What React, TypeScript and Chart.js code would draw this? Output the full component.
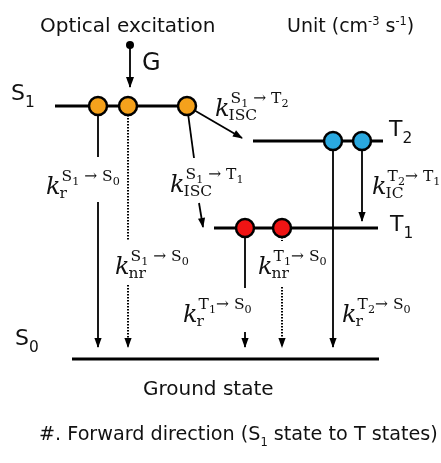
import React, { useEffect, useRef } from "react";
import { Chart, registerables } from "chart.js";
Chart.register(...registerables);

const WIDTH = 441;
const HEIGHT = 463;

// Energy levels (diagram units = pixels of the reference)
const levelNames = ["S_1", "T_2", "T_1", "S_0"];
const levelY = [106, 141, 228, 359];
const levelX0 = [55, 253, 214, 72];
const levelX1 = [193, 383, 378, 379];
const levelLabelX = [11, 389, 390, 15];
const levelLabelY = [100, 136, 231, 345];

// Excited-state populations sitting on the levels
const s1PopX = [98, 128, 187];
const t2PopX = [333, 362];
const t1PopX = [245, 282];

// Generation source (G)
const genX = [130];
const genY = [45];

// Transition segments
const segX0 = [98, 98, 128, 128, 187, 187, 199, 333, 362, 245, 245, 282, 282, 130];
const segY0 = [106, 202, 106, 285, 106, 106, 203, 141, 141, 228, 332, 228, 287, 45];
const segX1 = [98, 98, 128, 128, 242, 194, 203, 333, 362, 245, 245, 282, 282, 130];
const segY1 = [157, 347, 240, 347, 138, 158, 227, 347, 221, 288, 347, 241, 347, 87];
const segDotted = [0, 0, 1, 1, 0, 0, 0, 0, 0, 0, 0, 1, 1, 0];
const segArrow = [0, 1, 0, 1, 1, 0, 1, 1, 1, 0, 1, 0, 1, 1];

// Rate-constant labels
const kX = [46, 215, 170, 372, 115, 258, 183, 342];
const kY = [194, 116, 192, 194, 274, 274, 322, 322];
const kSup = ["S_1 → S_0", "S_1 → T_2", "S_1 → T_1", "T_2→ T_1", "S_1 → S_0", "T_1→ S_0", "T_1→ S_0", "T_2→ S_0"];
const kSub = ["r", "ISC", "ISC", "IC", "nr", "nr", "r", "r"];

// Free text
const textStr = ["Optical excitation", "Unit (cm^{-3} s^{-1})", "G", "Ground state", "#. Forward direction (S_1 state to T states)"];
const textX = [40, 287, 142, 143, 39];
const textY = [32, 32, 70, 395, 440];
const textSize = [20, 19, 24, 20, 19.2];

const SANS = '"DejaVu Sans", sans-serif';
const SERIF = '"DejaVu Serif", serif';

type Part = { t: string; m: 0 | 1 | 2 };
function parseRich(s: string): Part[] {
  const parts: Part[] = [];
  let i = 0;
  let buf = "";
  while (i < s.length) {
    const c = s[i];
    if (c === "_" || c === "^") {
      if (buf) { parts.push({ t: buf, m: 0 }); buf = ""; }
      let t: string;
      if (s[i + 1] === "{") {
        const j = s.indexOf("}", i + 2);
        t = s.slice(i + 2, j);
        i = j + 1;
      } else {
        t = s[i + 1];
        i += 2;
      }
      parts.push({ t, m: c === "_" ? 1 : 2 });
    } else {
      buf += c;
      i++;
    }
  }
  if (buf) parts.push({ t: buf, m: 0 });
  return parts;
}

function drawRich(ctx: CanvasRenderingContext2D, s: string, x: number, y: number, size: number, family: string, scale = 0.7, subDy = 0.3, supDy = -0.42, style = "") {
  for (const p of parseRich(s)) {
    const fs = p.m === 0 ? size : size * scale;
    ctx.font = `${style} ${fs}px ${family}`;
    const dy = p.m === 1 ? size * subDy : p.m === 2 ? size * supDy : 0;
    ctx.fillText(p.t, x, y + dy);
    x += ctx.measureText(p.t).width;
  }
  return x;
}

const arrowPlugin = {
  id: "arrowheads",
  afterDatasetsDraw(chart: any) {
    const ctx: CanvasRenderingContext2D = chart.ctx;
    chart.data.datasets.forEach((ds: any, i: number) => {
      if (!ds.arrowHead) return;
      const pts = chart.getDatasetMeta(i).data;
      const a = pts[pts.length - 2];
      const b = pts[pts.length - 1];
      const dx = b.x - a.x;
      const dy = b.y - a.y;
      const len = Math.hypot(dx, dy) || 1;
      const ux = dx / len;
      const uy = dy / len;
      const L = ds.arrowHead[0];
      const hw = ds.arrowHead[1];
      ctx.save();
      ctx.fillStyle = "#000";
      ctx.beginPath();
      ctx.moveTo(b.x + ux, b.y + uy);
      ctx.lineTo(b.x - ux * L - uy * hw, b.y - uy * L + ux * hw);
      ctx.lineTo(b.x - ux * L + uy * hw, b.y - uy * L - ux * hw);
      ctx.closePath();
      ctx.fill();
      ctx.restore();
    });
  },
};

const textPlugin = {
  id: "diagramText",
  afterDraw(chart: any) {
    const ctx: CanvasRenderingContext2D = chart.ctx;
    const xs = chart.scales.x;
    const ys = chart.scales.y;
    ctx.save();
    ctx.fillStyle = "#111";
    ctx.textAlign = "left";
    ctx.textBaseline = "alphabetic";
    textStr.forEach((s, i) => {
      drawRich(ctx, s, xs.getPixelForValue(textX[i]), ys.getPixelForValue(textY[i]), textSize[i], SANS, 0.6, 0.3, -0.38);
    });
    levelNames.forEach((s, i) => {
      drawRich(ctx, s, xs.getPixelForValue(levelLabelX[i]), ys.getPixelForValue(levelLabelY[i]), 22, SANS, 0.7, 0.32);
    });
    kX.forEach((kx, i) => {
      const px = xs.getPixelForValue(kx);
      const py = ys.getPixelForValue(kY[i]);
      ctx.font = `italic 24px ${SERIF}`;
      ctx.fillText("k", px, py);
      const kw = ctx.measureText("k").width;
      drawRich(ctx, kSup[i], px + kw + 1, py - 13, 15.5, SERIF, 0.72, 0.25);
      drawRich(ctx, kSub[i], px + kw - 1, py + 4, 15.5, SERIF);
    });
    ctx.restore();
  },
};

export default function App() {
  const ref = useRef<HTMLCanvasElement>(null);
  useEffect(() => {
    const canvas = ref.current;
    if (!canvas) return;
    const datasets: any[] = [];
    levelY.forEach((y, i) => {
      datasets.push({
        label: levelNames[i],
        data: [{ x: levelX0[i], y }, { x: levelX1[i], y }],
        showLine: true,
        borderColor: "#000",
        borderWidth: 3,
        pointRadius: 0,
        order: 3,
        clip: false,
      });
    });
    segX0.forEach((x0, i) => {
      datasets.push({
        label: "seg" + i,
        data: [{ x: x0, y: segY0[i] }, { x: segX1[i], y: segY1[i] }],
        showLine: true,
        borderColor: "#000",
        borderWidth: segDotted[i] ? 2 : 1.8,
        borderDash: segDotted[i] ? [1.5, 1.5] : [],
        pointRadius: 0,
        order: 2,
        clip: false,
        arrowHead: segArrow[i] ? (i === 13 ? [10, 4] : [9, 3.6]) : null,
      });
    });
    const popSets: [number[], number, string][] = [
      [s1PopX, levelY[0], "#F4A11C"],
      [t2PopX, levelY[1], "#2AA9E0"],
      [t1PopX, levelY[2], "#F01414"],
    ];
    popSets.forEach(([xsArr, y, color], i) => {
      datasets.push({
        label: "pop" + i,
        data: xsArr.map((x) => ({ x, y })),
        showLine: false,
        pointRadius: 9,
        pointBackgroundColor: color,
        pointBorderColor: "#000",
        pointBorderWidth: 2.5,
        order: 0,
        clip: false,
      });
    });
    datasets.push({
      label: "G",
      data: genX.map((x, i) => ({ x, y: genY[i] })),
      pointRadius: 4,
      pointBackgroundColor: "#000",
      pointBorderColor: "#000",
      pointBorderWidth: 0,
      order: 0,
      clip: false,
    });
    const chart = new Chart(canvas, {
      type: "scatter",
      data: { datasets },
      options: {
        animation: false,
        responsive: false,
        maintainAspectRatio: false,
        events: [],
        layout: { padding: 0, autoPadding: false },
        plugins: { legend: { display: false }, tooltip: { enabled: false } },
        scales: {
          x: { type: "linear", min: 0, max: WIDTH, display: false },
          y: { type: "linear", min: 0, max: HEIGHT, reverse: true, display: false },
        },
      } as any,
      plugins: [arrowPlugin, textPlugin],
    });
    return () => chart.destroy();
  }, []);
  return (
    <div style={{ position: "absolute", left: 0, top: 0, width: WIDTH, height: HEIGHT, background: "#fff" }}>
      <canvas ref={ref} width={WIDTH} height={HEIGHT} style={{ display: "block" }} />
    </div>
  );
}
